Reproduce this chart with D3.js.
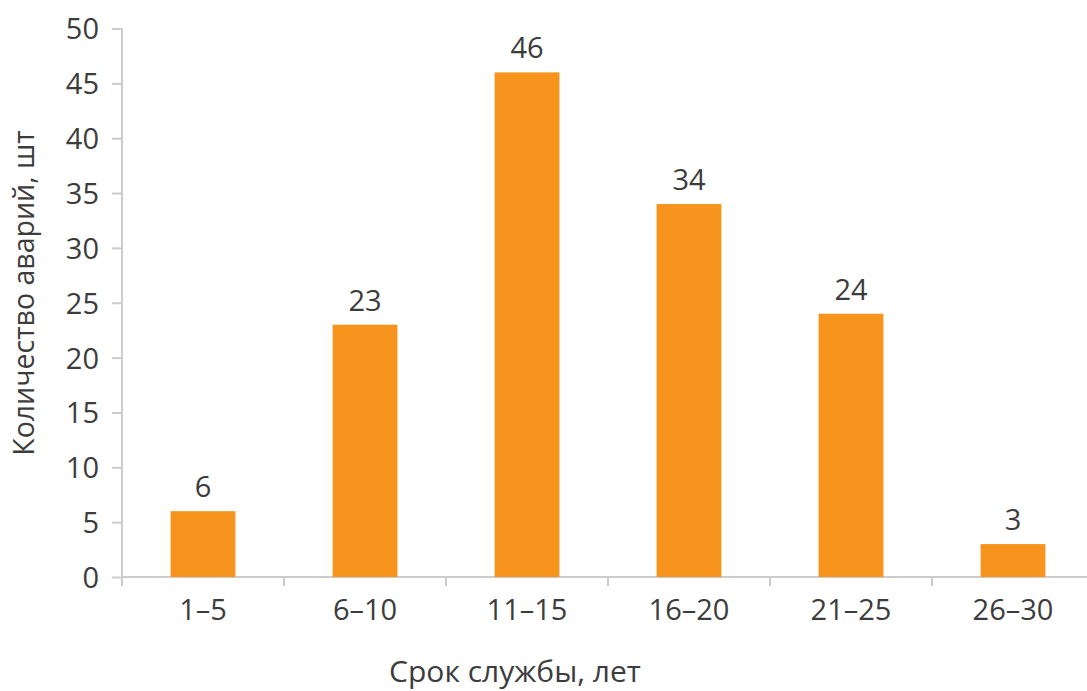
<!DOCTYPE html>
<html>
<head>
<meta charset="utf-8">
<script src="https://cdn.jsdelivr.net/npm/d3@7"></script>
<style>
  html, body { margin: 0; padding: 0; background: #fff; }
  svg { display: block; }
  text { font-family: "Open Sans", sans-serif; fill: #3c3c3c; }
</style>
</head>
<body>
<svg id="chart" width="1087" height="691"></svg>
<script>
const categories = ["1–5", "6–10", "11–15", "16–20", "21–25", "26–30"];
const values = [6, 23, 46, 34, 24, 3];
const yTicks = [0, 5, 10, 15, 20, 25, 30, 35, 40, 45, 50];
const xTitle = "Срок службы, лет";
const yTitle = "Количество аварий, шт";

const svg = d3.select("#chart");
const mLeft = 122, mRight = 1094, mTop = 28.5, mBottom = 577;
const axisColor = "#cccccc";
const barColor = "#F7941D";

const x = d3.scaleBand().domain(categories).range([mLeft, mRight])
  .paddingInner(0.6).paddingOuter(0.3);
const y = d3.scaleLinear().domain([0, 50]).range([mBottom, mTop]);

// Y axis
const yAxis = svg.append("g").attr("transform", `translate(${mLeft},0)`)
  .call(d3.axisLeft(y).tickValues(yTicks).tickSize(10).tickPadding(13));
yAxis.select(".domain").attr("stroke", axisColor).attr("stroke-width", 2)
  .attr("d", `M0,${mTop}V${mBottom + 8}`);
yAxis.selectAll(".tick line").attr("stroke", axisColor).attr("stroke-width", 2);
yAxis.selectAll(".tick text").style("font-size", "29px").attr("fill", "#3c3c3c")
  .style("font-family", "'Open Sans', sans-serif").attr("dy", "0.36em");

// X axis
const xAxis = svg.append("g").attr("transform", `translate(0,${mBottom})`)
  .call(d3.axisBottom(x).tickSize(0).tickPadding(22));
xAxis.select(".domain").attr("stroke", axisColor).attr("stroke-width", 2)
  .attr("d", `M${mLeft},0H${mRight}`);
xAxis.selectAll(".tick text").style("font-size", "29px").attr("fill", "#3c3c3c")
  .style("font-family", "'Open Sans', sans-serif");

// boundary ticks
const gap = x.step() - x.bandwidth();
const bounds = categories.map(c => x(c) - gap / 2).concat([x(categories[categories.length - 1]) + x.bandwidth() + gap / 2]);
svg.append("g").selectAll("line").data(bounds).join("line")
  .attr("x1", d => d).attr("x2", d => d)
  .attr("y1", mBottom).attr("y2", mBottom + 9)
  .attr("stroke", axisColor).attr("stroke-width", 2);

// Bars
svg.append("g").selectAll("rect").data(values).join("rect")
  .attr("x", (d, i) => x(categories[i]))
  .attr("y", d => y(d))
  .attr("width", x.bandwidth())
  .attr("height", d => y(0) - y(d))
  .attr("fill", barColor);

// Value labels
svg.append("g").selectAll("text").data(values).join("text")
  .attr("x", (d, i) => x(categories[i]) + x.bandwidth() / 2)
  .attr("y", d => y(d) - 14)
  .attr("text-anchor", "middle")
  .style("font-size", "29px")
  .text(d => d);

// Axis titles
svg.append("text").attr("x", 515).attr("y", 682)
  .attr("text-anchor", "middle").style("font-size", "30px").text(xTitle);
svg.append("text").attr("transform", "translate(34,293) rotate(-90)")
  .attr("text-anchor", "middle").style("font-size", "28.5px").text(yTitle);
</script>
</body>
</html>
